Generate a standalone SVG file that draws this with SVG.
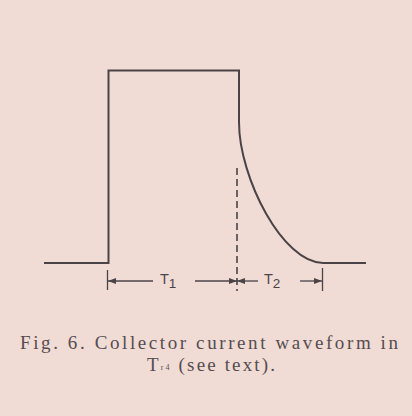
<svg xmlns="http://www.w3.org/2000/svg" width="412" height="416" viewBox="0 0 412 416">
<defs>
<style>
.w{fill:none;stroke:#4a4447;stroke-width:2;stroke-linejoin:miter}
.d{fill:none;stroke:#4a4447;stroke-width:1.6;stroke-dasharray:7 4}
.a{fill:none;stroke:#4a4447;stroke-width:1.3}
.lbl{font-family:"Liberation Sans",Arial,sans-serif;fill:#4a4447}
.cap{font-family:"Liberation Serif","Times New Roman",serif;fill:#554d50;font-size:19px}
</style>
<marker id="ah" viewBox="0 0 8 6" refX="8" refY="3" markerWidth="8" markerHeight="6" markerUnits="userSpaceOnUse" orient="auto">
<path d="M0,0 L8,3 L0,6 z" fill="#4a4447"/>
</marker>
</defs>
<rect width="412" height="416" fill="#f1dbd5"/>
<g id="waveform">
<path class="w" d="M44,263 H108.5 V70.5 H239 V122 C239,178 283,263 323,263 H366"/>
</g>
<g id="connectors">
<path class="d" d="M237,168 V291"/>
<path class="a" d="M107.5,270 V290"/>
<path class="a" d="M322.5,268 V291"/>
<path class="a" d="M153,281 H108" marker-end="url(#ah)"/>
<path class="a" d="M195,281 H237" marker-end="url(#ah)"/>
<path class="a" d="M258,281 H237" marker-end="url(#ah)"/>
<path class="a" d="M300,281 H322" marker-end="url(#ah)"/>
</g>
<g id="label-t1">
<text class="lbl" x="160" y="284" font-size="14.5">T<tspan font-size="13.5" dy="4">1</tspan></text>
</g>
<g id="label-t2">
<text class="lbl" x="264" y="284" font-size="14.5">T<tspan font-size="13.5" dy="4">2</tspan></text>
</g>
<g id="caption">
<text class="cap" x="20" y="349" textLength="378" lengthAdjust="spacing">Fig. 6. Collector current waveform in</text>
<text class="cap" x="147" y="371" textLength="128" lengthAdjust="spacing">T<tspan font-size="8" dy="-1">r4</tspan><tspan dy="1" xml:space="preserve"> (see text).</tspan></text>
</g>
</svg>
